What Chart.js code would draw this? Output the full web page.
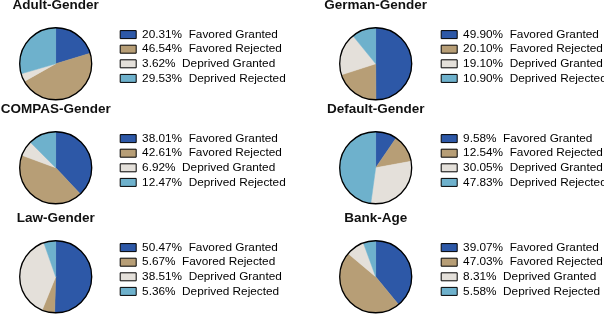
<!DOCTYPE html>
<html>
<head>
<meta charset="utf-8">
<script src="https://cdn.jsdelivr.net/npm/chart.js@4.4.1/dist/chart.umd.min.js"></script>
<style>
  html, body { margin: 0; padding: 0; background: #fff; overflow: hidden; }
  body { position: relative; width: 604px; height: 314px; }
  canvas { position: absolute; }
</style>
</head>
<body>
<canvas id="c0"></canvas>
<canvas id="c1"></canvas>
<canvas id="c2"></canvas>
<canvas id="c3"></canvas>
<canvas id="c4"></canvas>
<canvas id="c5"></canvas>
<script>
// data
const categories = ['Favored Granted', 'Favored Rejected', 'Deprived Granted', 'Deprived Rejected'];
const titles = ['Adult-Gender', 'German-Gender', 'COMPAS-Gender', 'Default-Gender', 'Law-Gender', 'Bank-Age'];
const adultGender   = [20.31, 46.54, 3.62, 29.53];
const germanGender  = [49.90, 20.10, 19.10, 10.90];
const compasGender  = [38.01, 42.61, 6.92, 12.47];
const defaultGender = [9.58, 12.54, 30.05, 47.83];
const lawGender     = [50.47, 5.67, 38.51, 5.36];
const bankAge       = [39.07, 47.03, 8.31, 5.58];
const seriesList = [adultGender, germanGender, compasGender, defaultGender, lawGender, bankAge];

const colors = ['#2D58A7', '#B79E76', '#E4E0DA', '#6EB1CC'];
const FONT = '"Liberation Sans", Arial, Helvetica, sans-serif';

// layout of the 2x3 grid
const colPieX = [56, 376];   // pie centre x
const colBoxX = [120.5, 441.5]; // legend box left x
const colRight = [302, 604];
const rowTop = [0, 104, 213];
const cellH = 113;
const legendPad = 2.8;

// black ring around each pie
const ringPlugin = {
  id: 'ring',
  afterDatasetsDraw(chart) {
    const arc = chart.getDatasetMeta(0).data[0];
    if (!arc) return;
    const ctx = chart.ctx;
    ctx.save();
    ctx.beginPath();
    ctx.arc(arc.x, arc.y, arc.outerRadius, 0, Math.PI * 2);
    ctx.lineWidth = 1.3;
    ctx.strokeStyle = '#000';
    ctx.stroke();
    ctx.restore();
  }
};

// keep legend a fixed width so boxes line up in every cell
const fixedLegend = {
  id: 'fixedLegend',
  beforeLayout(chart, args, opts) {
    const lg = chart.legend;
    if (lg && !lg._fixedW) {
      const fit = lg.fit;
      lg.fit = function () {
        fit.call(this);
        this.width = opts.width;
      };
      lg._fixedW = true;
    }
  }
};

seriesList.forEach((values, i) => {
  const col = i % 2, row = Math.floor(i / 2);
  const legendLeft = colBoxX[col] - legendPad;
  const left = 2 * colPieX[col] - legendLeft;
  const width = colRight[col] - left;
  const canvas = document.getElementById('c' + i);
  canvas.width = Math.round(width);
  canvas.height = cellH;
  canvas.style.left = left + 'px';
  canvas.style.top = rowTop[row] + 'px';

  new Chart(canvas, {
    type: 'pie',
    data: {
      labels: categories,
      datasets: [{
        data: values,
        backgroundColor: colors,
        borderColor: colors,
        borderWidth: 0.5
      }]
    },
    options: {
      responsive: false,
      animation: false,
      events: [],
      radius: 36,
      layout: { padding: 0 },
      plugins: {
        fixedLegend: { width: canvas.width - (legendLeft - left) },
        title: {
          display: true,
          text: titles[i],
          fullSize: false,
          color: '#111',
          font: { family: FONT, size: 13.5, weight: 'bold', lineHeight: 1 },
          padding: { top: -1, bottom: 2 }
        },
        legend: {
          display: true,
          position: 'right',
          align: 'center',
          labels: {
            boxWidth: 16,
            boxHeight: 8,
            padding: legendPad,
            color: '#111',
            font: { family: FONT, size: 11.8 },
            generateLabels: () => categories.map((c, k) => ({
              text: values[k].toFixed(2) + '%  ' + c,
              fillStyle: colors[k],
              strokeStyle: '#000',
              lineWidth: 1,
              hidden: false,
              index: k
            }))
          }
        },
        tooltip: { enabled: false }
      }
    },
    plugins: [ringPlugin, fixedLegend]
  });
});
</script>
</body>
</html>
